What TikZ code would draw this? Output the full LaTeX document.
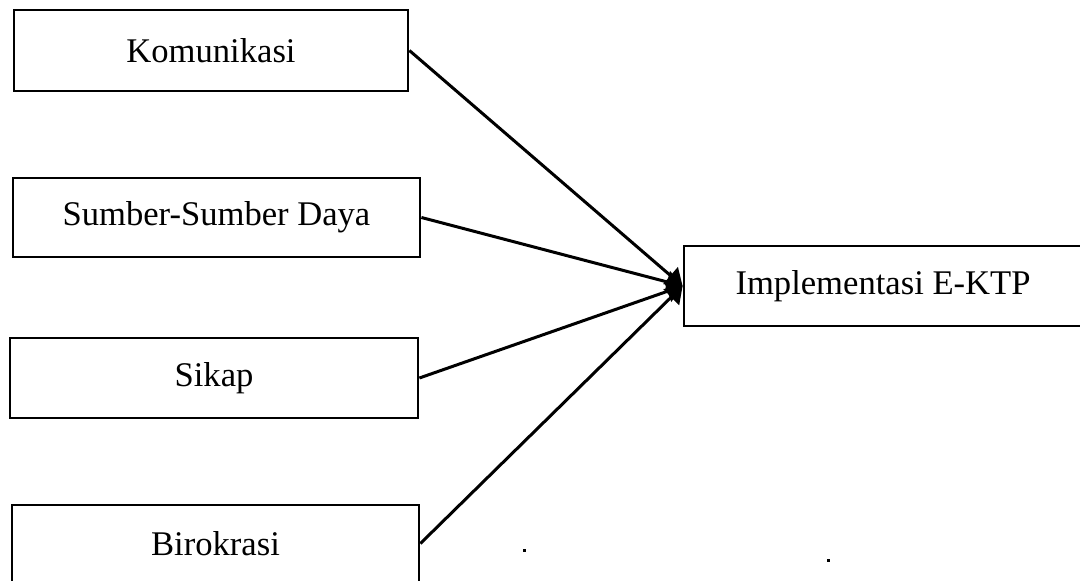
\documentclass[tikz,border=0pt]{standalone}
\usepackage{fontspec}
\setmainfont{Liberation Serif}
\usetikzlibrary{arrows.meta}
\begin{document}
\begin{tikzpicture}[x=0.5pt,y=-0.5pt,
  box/.style={draw=black,line width=1.4pt,rectangle,inner sep=0pt,
    font=\fontsize{17.3}{20}\selectfont,text=black},
  link/.style={draw=black,line width=1.5pt,-{Triangle[length=8pt,width=11pt]}}]
\useasboundingbox (0,0) rectangle (1080,581);
\clip (0,0) rectangle (1080,581);
\fill[white] (0,0) rectangle (1080,581);
\node[box,minimum width=197pt,minimum height=40.5pt] (kom) at (211,50.5) {Komunikasi};
\node[box,minimum width=203.5pt,minimum height=39.5pt] (sum) at (216.5,217.5) {Sumber-Sumber Daya};
\node[box,minimum width=204pt,minimum height=40pt] (sik) at (214,378) {Sikap};
\node[box,minimum width=203.5pt,minimum height=38.5pt] (bir) at (215.5,543.5) {Birokrasi};
\node[box,minimum width=199pt,minimum height=40pt] (imp) at (883,286) {Implementasi E-KTP};
\coordinate (tip) at (imp.west);
\draw[link] (kom.east) -- (tip);
\draw[link] (sum.east) -- (tip);
\draw[link] (sik.east) -- (tip);
\draw[link] (bir.east) -- (tip);
\fill[black] (522.5,549.5) rectangle (525.5,552.5);
\fill[black] (826.5,559.5) rectangle (829.5,562.5);
\end{tikzpicture}
\end{document}
